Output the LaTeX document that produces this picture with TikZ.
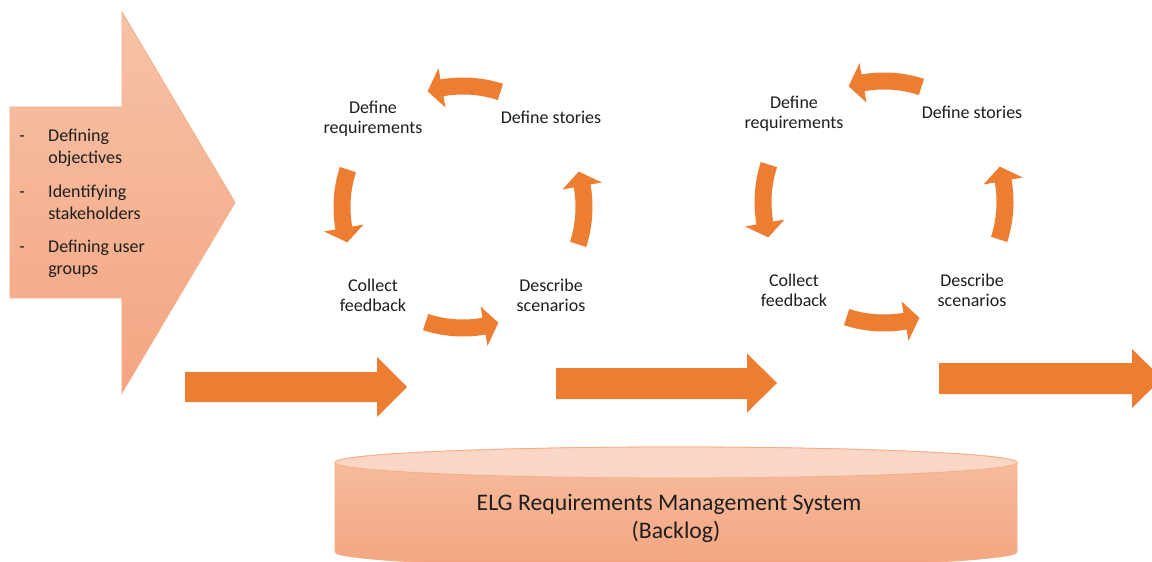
\documentclass[tikz,border=0pt]{standalone}
\usepackage{fontspec}
\setmainfont{Carlito}
\usetikzlibrary{calc}
\definecolor{accent}{HTML}{ED7D31}
\definecolor{ink}{HTML}{1E1E1E}
\definecolor{introtop}{HTML}{F6C2A7}
\definecolor{introbot}{HTML}{F4A581}
\definecolor{softedge}{HTML}{F4AE86}
\definecolor{lidface}{HTML}{F9D6C5}
\definecolor{cyltop}{HTML}{F6BEA1}
\definecolor{cylbot}{HTML}{F4A580}

% one bent arrow of a cycle: #1 = centre of the cycle, #2 = mid angle
\newcommand\cyclearrow[2]{%
  \fill[accent, shift={(#1)}]
    (#2-18:129.5) arc[start angle=#2-18, end angle=#2+10, radius=129.5]
    -- (#2+10:141) -- (#2+17:121) -- (#2+10:101) -- (#2+10:112.5)
    arc[start angle=#2+10, end angle=#2-18, radius=112.5] -- cycle;}

% one bullet of the preparation list
\newcommand\listitem[2]{\begin{tabular}{@{}p{21.75pt}@{}l@{}}-&#1\\&#2\end{tabular}}

\begin{document}
\begin{tikzpicture}[x=0.75pt, y=0.75pt,
  label/.style={font=\fontsize{13.5}{15}\selectfont, text=ink, align=center, inner sep=0pt},
  item/.style={font=\fontsize{13.5}{16.5}\selectfont, text=ink, inner sep=0pt, anchor=west},
  flow/.style={fill=accent}]
\useasboundingbox (0,0) rectangle (1152,561);
\clip (0,0) rectangle (1152,561);

% preparation arrow with its list
\shadedraw[top color=introtop, bottom color=introbot, draw=softedge, line width=0.6]
  (10,454) -- (122,454) -- (122,549) -- (235,358.5) -- (122,168) -- (122,263) -- (10,263) -- cycle;
\node[item] (i1) at (19,412.5) {\listitem{Defining}{objectives}};
\node[item] (i2) at (19,357) {\listitem{Identifying}{stakeholders}};
\node[item] (i3) at (19,302) {\listitem{Defining user}{groups}};

% straight flow arrows
\fill[flow] (185,189) -- (377,189) -- (377,204) -- (407,174) -- (377,144) -- (377,159) -- (185,159) -- cycle;
\fill[flow] (556,193) -- (747,193) -- (747,207.5) -- (777,178) -- (747,148.5) -- (747,162) -- (556,162) -- cycle;
\fill[flow] (939,198) -- (1132,198) -- (1132,212) -- (1162,182.5) -- (1132,153) -- (1132,167) -- (939,167) -- cycle;

% first iteration
\coordinate (c1) at (463,354);
\cyclearrow{c1}{90}
\cyclearrow{c1}{180}
\cyclearrow{c1}{270}
\cyclearrow{c1}{0}
\node[label] (req1) at ($(c1)+(-90,88)$) {Define\\requirements};
\node[label] (sto1) at ($(c1)+(88,90)$) {Define stories};
\node[label] (fb1) at ($(c1)+(-90,-88)$) {Collect\\feedback};
\node[label] (sc1) at ($(c1)+(88,-88)$) {Describe\\scenarios};

% second iteration
\coordinate (c2) at (884,359);
\cyclearrow{c2}{90}
\cyclearrow{c2}{180}
\cyclearrow{c2}{270}
\cyclearrow{c2}{0}
\node[label] (req2) at ($(c2)+(-90,88)$) {Define\\requirements};
\node[label] (sto2) at ($(c2)+(88,90)$) {Define stories};
\node[label] (fb2) at ($(c2)+(-90,-88)$) {Collect\\feedback};
\node[label] (sc2) at ($(c2)+(88,-88)$) {Describe\\scenarios};

% backlog store
\shadedraw[top color=cyltop, bottom color=cylbot, draw=softedge, line width=0.6]
  (335,98.5) -- (335,9) arc[start angle=180, end angle=360, x radius=341, y radius=15.5]
  -- (1017,98.5) arc[start angle=0, end angle=180, x radius=341, y radius=15.5] -- cycle;
\filldraw[fill=lidface, draw=softedge, line width=0.6] (676,98.5) ellipse[x radius=341, y radius=15.5];
\node[text=ink, align=center, inner sep=0pt, font=\fontsize{17.8}{21}\selectfont] (store) at (676,43)
  {ELG Requirements Management System\hspace*{10.5pt}\\(Backlog)};
\end{tikzpicture}
\end{document}
